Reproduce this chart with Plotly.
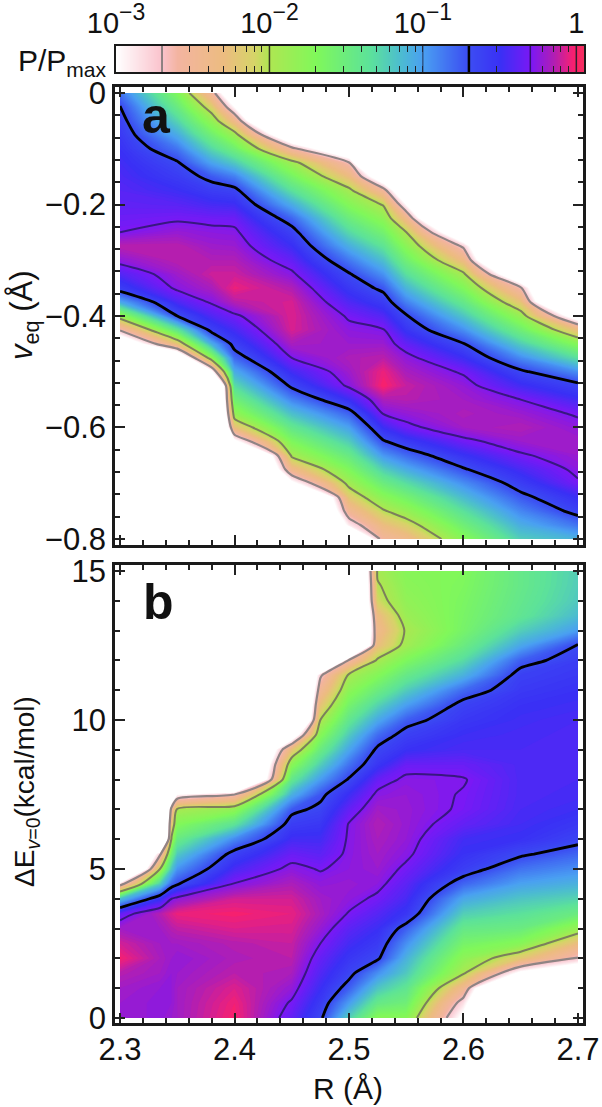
import numpy as np
import plotly.graph_objects as go

# log10(P/Pmax), one list per R column, top of the panel first
R_a = [2.3, 2.35, 2.38, 2.4, 2.45, 2.5, 2.53, 2.55, 2.6, 2.65, 2.7]
veq = [0, -0.025, -0.05, -0.075, -0.1, -0.125, -0.15, -0.175, -0.2, -0.225, -0.25,
       -0.275, -0.3, -0.325, -0.35, -0.375, -0.4, -0.425, -0.45, -0.475, -0.5,
       -0.525, -0.55, -0.575, -0.6, -0.625, -0.65, -0.675, -0.7, -0.725, -0.75, -0.775, -0.8]

a_230 = [-.85, -.69, -.62, -.57, -.52, -.48, -.45, -.42, -.39, -.35, -.30, -.14, -.25, -.43, -.60, -1.05, -1.84, -2.67, -3.5] + [-5] * 14
a_235 = [-1.7, -1.49, -1.28, -1.07, -.86, -.68, -.59, -.50, -.41, -.32, -.23, -.14, -.14, -.21, -.27, -.45, -.70, -1.41, -2.23, -3.6] + [-5] * 13
a_238 = [-2.55, -2.14, -1.83, -1.56, -1.30, -1.03, -.76, -.60, -.47, -.34, -.26, -.21, -.16, -.11, -.18, -.28, -.44, -.62, -1.08, -1.80, -3.1] + [-5] * 12
a_240 = [-3.6, -3.0, -2.4, -1.89, -1.56, -1.22, -.89, -.64, -.49, -.35, -.27, -.22, -.16, -.11, -.05, -.15, -.33, -.47, -.62, -.81, -1.07, -1.32, -1.57, -1.83, -2.27, -3.1] + [-5] * 7
a_245 = [-5] * 3 + [-3.6, -2.6, -1.90, -1.62, -1.35, -1.07, -.80, -.62, -.50, -.38, -.27, -.16, -.09, -.08, -.09, -.18, -.30, -.48, -.66, -.91, -1.17, -1.43, -1.69, -1.95, -2.4, -3.1] + [-5] * 4
a_250 = [-5] * 4 + [-3.6, -2.68, -2.3, -1.93, -1.73, -1.51, -1.30, -1.08, -.87, -.68, -.56, -.44, -.32, -.26, -.22, -.17, -.21, -.27, -.50, -.79, -1.02, -1.24, -1.47, -1.69, -1.92, -2.19, -2.49, -2.9, -4]
a_253 = [-5] * 6 + [-3.4, -2.55, -2.02, -1.80, -1.59, -1.38, -1.17, -.96, -.75, -.59, -.43, -.29, -.22, -.14, -.05, -.02, -.17, -.29, -.5, -.72, -.98, -1.25, -1.51, -1.77, -2.03, -2.3, -2.55]
a_255 = [-5] * 7 + [-3.6, -3.0, -2.4, -1.99, -1.77, -1.56, -1.34, -1.12, -.90, -.68, -.54, -.38, -.25, -.18, -.12, -.15, -.24, -.34, -.58, -.82, -1.07, -1.33, -1.6, -1.85, -2.13, -2.4]
a_260 = [-5] * 10 + [-3.6, -2.75, -2.35, -1.95, -1.70, -1.45, -1.2, -.95, -.69, -.5, -.32, -.24, -.2, -.17, -.2, -.34, -.53, -.72, -.95, -1.15, -1.35, -1.55, -1.75]
a_265 = [-5] * 13 + [-3.6, -2.65, -2.24, -1.86, -1.55, -1.24, -.94, -.66, -.48, -.3, -.22, -.16, -.22, -.32, -.46, -.6, -.76, -.92, -1.08, -1.24]
a_270 = [-5] * 16 + [-3.3, -2.3, -1.75, -1.35, -.95, -.64, -.48, -.32, -.25, -.2, -.22, -.26, -.32, -.5, -.63, -.85, -1.1]

R_b = [2.3, 2.335, 2.345, 2.35, 2.4, 2.45, 2.475, 2.5, 2.525, 2.55, 2.6, 2.65, 2.7]
dE = [15, 14.5, 14, 13.5, 13, 12.5, 12, 11.5, 11, 10.5, 10, 9.5, 9, 8.5, 8, 7.5, 7, 6.5,
      6, 5.5, 5, 4.5, 4, 3.5, 3, 2.5, 2, 1.5, 1, 0.5, 0]

b_230 = [-5] * 21 + [-2.87, -1.17, -.38, -.2, -.1, -.03, -.15, -.2, -.22, -.22]
b_2335 = [-5] * 19 + [-2.76, -1.99, -1.25, -.53, -.15, -.2, -.2, -.18, -.2, -.24, -.25, -.25]
b_2345 = [-5] * 15 + [-3.6, -2.55, -2.25, -1.95, -1.57, -1.2, -.82, -.3, -.08, -.15, -.2, -.22, -.24, -.24, -.24, -.22]
b_235 = [-5] * 15 + [-3.0, -1.96, -1.72, -1.48, -1.22, -.97, -.72, -.25, -.05, -.13, -.2, -.24, -.22, -.2, -.2, -.2]
b_240 = [-5] * 15 + [-2.7, -1.82, -1.38, -.93, -.62, -.46, -.29, -.1, -.03, -.08, -.15, -.17, -.14, -.08, -.04, -.02]
b_245 = [-5] * 11 + [-3.4, -2.25, -1.77, -1.43, -1.1, -.76, -.6, -.48, -.36, -.26, -.17, -.1, -.06, -.09, -.12, -.14, -.18, -.24, -.32, -.38]
b_2475 = [-5] * 7 + [-2.75, -2.5, -2.25, -2, -1.75, -1.5, -1.25, -1, -.75, -.65, -.56, -.48, -.4, -.31, -.25, -.2, -.18, -.23, -.3, -.37, -.43, -.5, -.58, -.66]
b_250 = [-5] * 6 + [-2.64, -1.95, -1.79, -1.61, -1.42, -1.23, -1.04, -.85, -.68, -.5, -.38, -.29, -.28, -.27, -.26, -.23, -.25, -.31, -.4, -.47, -.55, -.64, -.78, -1.0, -1.25]
b_2525 = [-1.95, -2.03, -2.1, -2.33, -2.42, -2.3, -1.96, -1.73, -1.51, -1.28, -1.06, -.83, -.66, -.55, -.37, -.27, -.2, -.16, -.18, -.2, -.22, -.26, -.33, -.42, -.5, -.58, -.67, -.95, -1.2, -1.45, -1.75]
b_255 = [-1.75, -1.78, -1.82, -1.88, -1.97, -1.92, -1.69, -1.46, -1.24, -1.01, -.78, -.62, -.52, -.36, -.27, -.24, -.23, -.23, -.24, -.27, -.33, -.4, -.46, -.55, -.78, -.95, -1.1, -1.22, -1.4, -1.55, -1.75]
b_260 = [-1.7, -1.68, -1.66, -1.64, -1.62, -1.5, -1.32, -1.1, -.82, -.63, -.56, -.5, -.46, -.36, -.29, -.31, -.32, -.38, -.48, -.52, -.6, -.8, -1.05, -1.25, -1.45, -1.62, -1.8, -1.97, -2.45, -2.85, -3.1]
b_265 = [-1.45, -1.45, -1.43, -1.4, -1.25, -1.05, -.78, -.62, -.57, -.52, -.49, -.47, -.46, -.45, -.45, -.45, -.46, -.48, -.52, -.67, -.85, -1.02, -1.2, -1.35, -1.5, -1.75, -2.2, -3.1, -5, -5, -5]
b_270 = [-1.25, -1.24, -1.22, -1.15, -1.0, -.68, -.6, -.56, -.52, -.49, -.46, -.45, -.45, -.45, -.46, -.47, -.5, -.56, -.64, -.8, -.95, -1.1, -1.28, -1.5, -1.85, -2.3, -2.72, -3.5, -5, -5, -5]

z_a = np.array([a_230, a_235, a_238, a_240, a_245, a_250, a_253, a_255, a_260, a_265, a_270]).T
z_b = np.array([b_230, b_2335, b_2345, b_235, b_240, b_245, b_2475, b_250, b_2525, b_255, b_260, b_265, b_270]).T

# colour key
key_x = [-3.1, -2.75, -2.5, -2.25, -2, -1.75, -1.5, -1.25, -1, -0.75, -0.5, -0.25, 0, 0.1]
key_major = [-3, -2, -1, 0]
key_exp = ["−3", "−2", "−1"]
key_major_text = ["10<sup><span style='font-size:23px'>" + e + "</span></sup>" for e in key_exp] + ["1"]
key_minor = [-2.52, -2.4, -2.3, -2.22, -2.15, -2.1, -2.05,
             -1.7, -1.52, -1.4, -1.3, -1.22, -1.15, -1.1, -1.05,
             -0.52, -0.22, -0.15, -0.1, -0.05]
key_lines = [(-2.7, "#8c8080", 2), (-2, "#333322", 1.5), (-1, "#223355", 1), (-0.7, "#000000", 2.5), (-0.3, "#301070", 1.5), (0, "#302030", 1.5)]

ZMIN, ZMAX = -3, 0.05
stops = [(-3, "#ffffff"), (-2.7, "#fac2cc"), (-2.6, "#f3b4a0"), (-2.3, "#ecbc80"), (-2.1, "#d6d468"),
         (-2.0, "#aee652"), (-1.7, "#80f85a"), (-1.35, "#5ce29a"), (-1.15, "#4cbcd0"), (-1.0, "#4a9ff2"),
         (-0.72, "#3c50f2"), (-0.5, "#3a30f5"), (-0.3, "#7a18f5"), (-0.15, "#b01eb4"), (-0.05, "#e82080"),
         (0, "#ff2064"), (0.05, "#f03060")]
cscale = [[(v - ZMIN) / (ZMAX - ZMIN), c] for v, c in stops]

contour_lines = [(-2.7, "#8f8484", 2.2), (-2, "#7c7f5c", 2), (-0.7, "#000000", 2.8), (-0.3, "#37187f", 2)]

fig = go.Figure()


def add_panel(x, y, z, xa, ya):
    fig.add_trace(go.Contour(x=x, y=y, z=z, xaxis=xa, yaxis=ya, colorscale=cscale, zmin=ZMIN, zmax=ZMAX,
                             autocontour=False, contours=dict(start=-3, end=0.05, size=0.02, coloring="fill"),
                             line=dict(width=0, smoothing=0), showscale=False, hoverinfo="skip"))
    for lev, col, w in contour_lines:
        fig.add_trace(go.Contour(x=x, y=y, z=z, xaxis=xa, yaxis=ya, autocontour=False,
                                 contours=dict(start=lev, end=lev, size=1, coloring="none"),
                                 line=dict(color=col, width=w, smoothing=0.7), showscale=False, hoverinfo="skip"))


add_panel(R_a, veq, z_a, "x", "y")
add_panel(R_b, dE, z_b, "x2", "y2")

fig.add_trace(go.Heatmap(x=key_x, y=[0, 1], z=[key_x, key_x], xaxis="x3", yaxis="y3", colorscale=cscale,
                         zmin=ZMIN, zmax=ZMAX, zsmooth="best", showscale=False, hoverinfo="skip"))

W, H = 602, 1107
FONT = "Liberation Sans"
TXT = "#111111"


def px(v):
    return v / W


def py(v):
    return 1 - v / H


def frame(**kw):
    d = dict(showgrid=False, zeroline=False, showline=True, linecolor="#1a1a1a", linewidth=2.5, mirror="allticks",
             ticks="inside", ticklen=10, tickwidth=1.5, tickcolor="#222222", automargin=False,
             tickfont=dict(family=FONT, size=31, color=TXT), layer="above traces")
    d.update(kw)
    return d


xdom = [px(115), px(583)]
xticks = dict(tickmode="linear", tick0=2.3, dtick=0.1, range=[2.2956, 2.7044],
              minor=dict(ticks="inside", dtick=0.02, tick0=2.3, ticklen=5, tickwidth=1.5, tickcolor="#222222"))
fig.update_layout(
    width=W, height=H, margin=dict(l=0, r=0, t=0, b=0), paper_bgcolor="white", plot_bgcolor="white", showlegend=False,
    xaxis=frame(domain=xdom, anchor="y", showticklabels=False, **xticks),
    yaxis=frame(domain=[py(545), py(87)], anchor="x", range=[-0.8108, 0.0108], tickmode="linear", tick0=0, dtick=0.2,
                minor=dict(ticks="inside", dtick=0.04, tick0=0, ticklen=5, tickwidth=1.5, tickcolor="#222222")),
    xaxis2=frame(domain=xdom, anchor="y2", ticklabelstandoff=-3, **xticks),
    yaxis2=frame(domain=[py(1023), py(565)], anchor="x2", range=[-0.17, 15.2], tickmode="linear", tick0=0, dtick=5,
                 minor=dict(ticks="inside", dtick=1, tick0=0, ticklen=5, tickwidth=1.5, tickcolor="#222222")),
    xaxis3=frame(domain=[px(116), px(584)], anchor="y3", side="top", range=[ZMIN, ZMAX], tickmode="array",
                 tickvals=key_major + key_minor, ticktext=key_major_text + [""] * len(key_minor), ticklen=6, tickwidth=1.2, linewidth=1.5,
                 tickfont=dict(family=FONT, size=29, color=TXT)),
    yaxis3=frame(domain=[py(72), py(46)], anchor="x3", range=[0, 1], showticklabels=False, ticks="", linewidth=1.5),
)

for v, col, w in key_lines:
    fig.add_shape(type="line", xref="x3", yref="y3", x0=v, x1=v, y0=0, y1=1, line=dict(color=col, width=w))


def note(text, x, y, size, angle=0, anchor="center", bold=False):
    fig.add_annotation(text="<b>" + text + "</b>" if bold else text, x=px(x), y=py(y), xref="paper", yref="paper",
                       showarrow=False, textangle=angle, xanchor=anchor, yanchor="middle",
                       font=dict(family=FONT, size=size, color=TXT))


note("P/P<sub>max</sub>", 109, 63, 30, anchor="right")
note("<i>v</i><sub>eq</sub> (Å)", 24, 315, 31, angle=-90)
note("ΔE<sub><i>v</i>=0</sub>(kcal/mol)", 26, 792, 28, angle=-90)
note("R (Å)", 348, 1088, 30)
note("a", 156, 116, 50, bold=True)
note("b", 158, 602, 50, bold=True)

# the page keeps the browser's default body margin otherwise, and the figure fills the window
fig.write_html("out.html", config=dict(displayModeBar=False), post_script="document.body.style.margin = '0';")
